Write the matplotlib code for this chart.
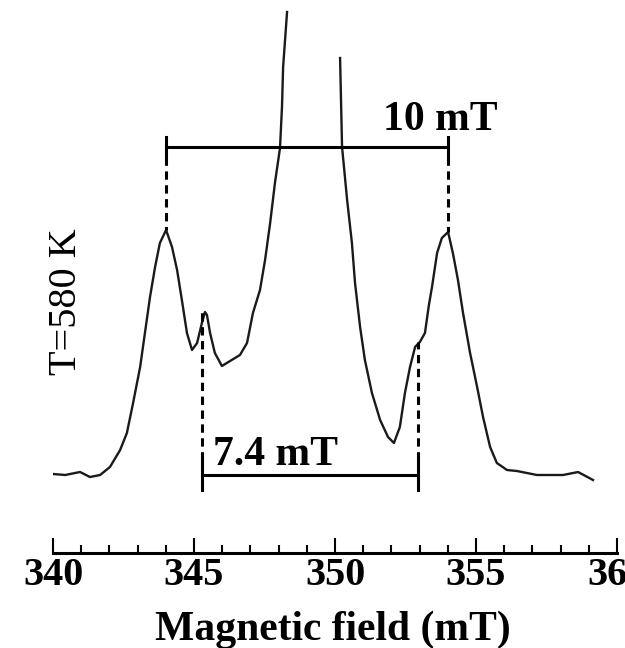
import numpy as np
import matplotlib
matplotlib.use("Agg")
import matplotlib.pyplot as plt

plt.rcParams['font.family'] = ['Liberation Serif', 'DejaVu Serif']
plt.rcParams['lines.scale_dashes'] = False

# EPR spectrum at T = 580 K (field in mT, intensity in arbitrary units)
field_left = [340.00, 340.43, 340.96, 341.31, 341.67, 342.02, 342.38, 342.62, 342.84,
              343.09, 343.26, 343.44, 343.62, 343.79, 344.01, 344.22, 344.40, 344.57,
              344.75, 344.93, 345.11, 345.28, 345.39, 345.46, 345.57, 345.74, 345.99,
              346.28, 346.63, 346.88, 347.09, 347.34, 347.52, 347.70, 347.87, 348.05,
              348.12, 348.16, 348.30]
inten_left = [-0.01, -0.02, 0.01, -0.04, -0.02, 0.06, 0.23, 0.40, 0.70,
              1.06, 1.40, 1.76, 2.06, 2.30, 2.43, 2.26, 2.03, 1.73,
              1.40, 1.23, 1.30, 1.50, 1.61, 1.58, 1.40, 1.20, 1.07,
              1.12, 1.18, 1.30, 1.60, 1.83, 2.13, 2.50, 2.90, 3.25,
              3.66, 4.06, 4.61]
field_right = [350.18, 350.25, 350.43, 350.60, 350.71, 350.89, 351.06, 351.31, 351.60,
               351.88, 352.09, 352.30, 352.48, 352.66, 352.84, 353.01, 353.19, 353.33,
               353.44, 353.62, 353.79, 354.01, 354.18, 354.36, 354.54, 354.79, 355.04,
               355.25, 355.50, 355.74, 356.10, 356.45, 357.16, 358.09, 358.62, 359.15]
inten_right = [4.15, 3.26, 2.73, 2.30, 1.90, 1.46, 1.13, 0.80, 0.53,
               0.36, 0.30, 0.46, 0.80, 1.06, 1.26, 1.31, 1.40, 1.68,
               1.86, 2.20, 2.35, 2.41, 2.20, 1.93, 1.60, 1.20, 0.86,
               0.56, 0.26, 0.10, 0.03, 0.02, -0.02, -0.02, 0.01, -0.07]

# Splitting annotations
outer_peaks = [344.0, 354.0]      # 10 mT splitting
outer_peak_heights = [2.43, 2.41]
inner_peaks = [345.3, 352.95]     # 7.4 mT splitting
inner_peak_heights = [1.61, 1.31]
outer_label = "10 mT"
inner_label = "7.4 mT"
temp_label = "T=580 K"
xticks = [340, 345, 350, 355, 360]

W, H = 625, 648
fig = plt.figure(figsize=(W / 100, H / 100), dpi=100)
ax = fig.add_axes([53 / W, (H - 553) / H, (617 - 53) / W, 553 / H])

col = '#1a1a1a'
ax.plot(field_left, inten_left, color=col, lw=1.7, solid_joinstyle='round')
ax.plot(field_right, inten_right, color=col, lw=1.7, solid_joinstyle='round')

# 10 mT bar
y10 = 3.26
ax.plot(outer_peaks, [y10, y10], color='black', lw=2.2)
for xp, hp in zip(outer_peaks, outer_peak_heights):
    ax.plot([xp, xp], [y10 - 0.10, y10 + 0.10], color='black', lw=2.2)
    ax.plot([xp, xp], [y10 - 0.10, hp], color='black', lw=2.2, dashes=(6, 4))
ax.text(351.7, 3.43, outer_label, fontsize=30, fontweight='bold', ha='left', va='baseline')

# 7.4 mT bar
y74 = -0.02
ax.plot(inner_peaks, [y74, y74], color='black', lw=2.2)
for xp, hp in zip(inner_peaks, inner_peak_heights):
    ax.plot([xp, xp], [y74 - 0.15, y74 + 0.15], color='black', lw=2.2)
    ax.plot([xp, xp], [y74 + 0.15, hp], color='black', lw=2.2, dashes=(6, 4))
ax.text(345.67, 0.08, inner_label, fontsize=30, fontweight='bold', ha='left', va='baseline')

ax.set_xlim(340, 360)
ax.set_ylim(-0.80, 4.73)
for s in ['left', 'right', 'top']:
    ax.spines[s].set_visible(False)
ax.spines['bottom'].set_linewidth(2.2)
ax.set_yticks([])
ax.set_xticks(xticks)
ax.set_xticks(np.arange(340, 361, 1), minor=True)
ax.tick_params(axis='x', which='major', direction='in', length=10.8, width=1.5, pad=3,
               labelsize=29)
ax.tick_params(axis='x', which='minor', direction='in', length=5.8, width=1.5)
for lab in ax.get_xticklabels():
    lab.set_fontweight('bold')

fig.text(333 / W, (H - 640) / H, "Magnetic field (mT)", fontsize=30, fontweight='bold',
         ha='center', va='baseline')
fig.text(66 / W, 1 - 302 / H, temp_label, fontsize=29, rotation=90, ha='center', va='center')

fig.savefig("out.png", dpi=100)
